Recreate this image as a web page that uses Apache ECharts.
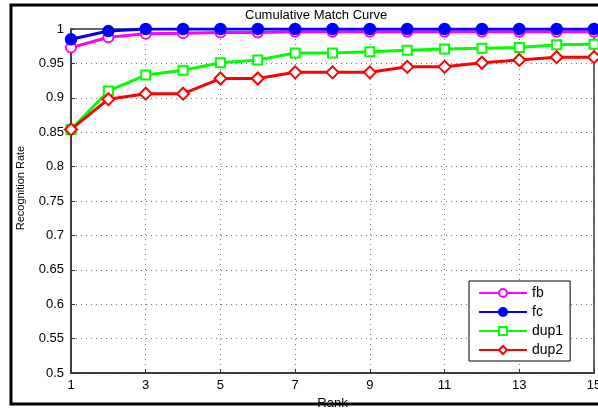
<!DOCTYPE html>
<html><head><meta charset="utf-8">
<script src="https://cdn.jsdelivr.net/npm/echarts@6/dist/echarts.min.js"></script>
<style>html,body{margin:0;padding:0;background:#fff}#c{width:598px;height:408px}</style>
</head><body><div id="c"></div>
<script>
var ranks = ['1','2','3','4','5','6','7','8','9','10','11','12','13','14','15'];
var fb   = [0.973,0.988,0.993,0.994,0.995,0.995,0.996,0.996,0.996,0.996,0.996,0.996,0.996,0.996,0.996];
var fc   = [0.985,0.997,1.0,1.0,1.0,1.0,1.0,1.0,1.0,1.0,1.0,1.0,1.0,1.0,1.0];
var dup1 = [0.854,0.910,0.933,0.940,0.951,0.955,0.965,0.965,0.967,0.969,0.971,0.972,0.973,0.977,0.978];
var dup2 = [0.854,0.898,0.906,0.906,0.928,0.928,0.937,0.937,0.937,0.945,0.945,0.951,0.955,0.959,0.959];
var seriesNames = ['fb','fc','dup1','dup2'];
var seriesColors = ['#ff00ff','#0000ff','#00ff00','#ff0000'];
var seriesSymbols = ['emptyCircle','circle','emptyRect','emptyDiamond'];
var seriesData = [fb, fc, dup1, dup2];

var FONT = 'Liberation Sans, Arial, sans-serif';
var chart = echarts.init(document.getElementById('c'), null, {renderer:'canvas'});
var series = seriesNames.map(function(n,i){
  return {
    name: n, type: 'line', data: seriesData[i],
    symbol: seriesSymbols[i], symbolSize: i===2 ? 9 : (i===3 ? 12 : 10),
    lineStyle: {color: seriesColors[i], width: 3},
    itemStyle: {color: seriesColors[i], borderColor: seriesColors[i], borderWidth: 2.5},
    emphasis: {disabled: true},
    animation: false, z: 2 + i
  };
});
chart.setOption({
  animation: false,
  backgroundColor: '#fff',
  title: {text: 'Cumulative Match Curve', left: 240, top: 4,
    textStyle: {fontFamily: FONT, fontSize: 13, fontWeight: 'normal', color: '#000'}},
  grid: {left: 71, right: 4, top: 29, bottom: 35, outerBoundsMode: 'none', containLabel: false,
    show: true, borderColor: '#333', borderWidth: 1.5, backgroundColor: 'transparent'},
  legend: {
    data: seriesNames, orient: 'vertical', left: 469, top: 281,
    itemWidth: 48, itemHeight: 10, itemGap: 5,
    padding: [5, 7, 4, 9],
    borderColor: '#000', borderWidth: 1, backgroundColor: '#fff',
    textStyle: {fontFamily: FONT, fontSize: 14, lineHeight: 14, color: '#000'},
    selectedMode: false
  },
  xAxis: {
    type: 'category', data: ranks, boundaryGap: false,
    name: 'Rank', nameLocation: 'middle', nameGap: 22,
    nameTextStyle: {fontFamily: FONT, fontSize: 13, color: '#000'},
    axisLine: {lineStyle: {color: '#333', width: 1.5}},
    axisTick: {inside: true, length: 4, interval: 1, lineStyle: {color: '#333'}},
    axisLabel: {interval: 1, margin: 6, fontFamily: FONT, fontSize: 13, color: '#000'},
    splitLine: {show: true, interval: 1, lineStyle: {color: '#777', type: [1, 4], width: 1}}
  },
  yAxis: {
    type: 'value', min: 0.5, max: 1, interval: 0.05,
    name: 'Recognition Rate', nameLocation: 'middle', nameGap: 45,
    nameTextStyle: {fontFamily: FONT, fontSize: 11, color: '#000', padding: [0, 0, 0, 26]},
    axisLine: {show: true, lineStyle: {color: '#333', width: 1.5}},
    axisTick: {show: true, inside: true, length: 4, lineStyle: {color: '#333'}},
    axisLabel: {margin: 7, fontFamily: FONT, fontSize: 13, color: '#000',
      formatter: function(v){ return String(+v.toFixed(2)); }},
    splitLine: {show: true, lineStyle: {color: '#777', type: [1, 4], width: 1}}
  },
  graphic: [{type: 'rect', shape: {x: 11, y: 5, width: 600, height: 399},
    style: {fill: 'none', stroke: '#000', lineWidth: 3}, z: 100}],
  series: series
});
</script></body></html>
